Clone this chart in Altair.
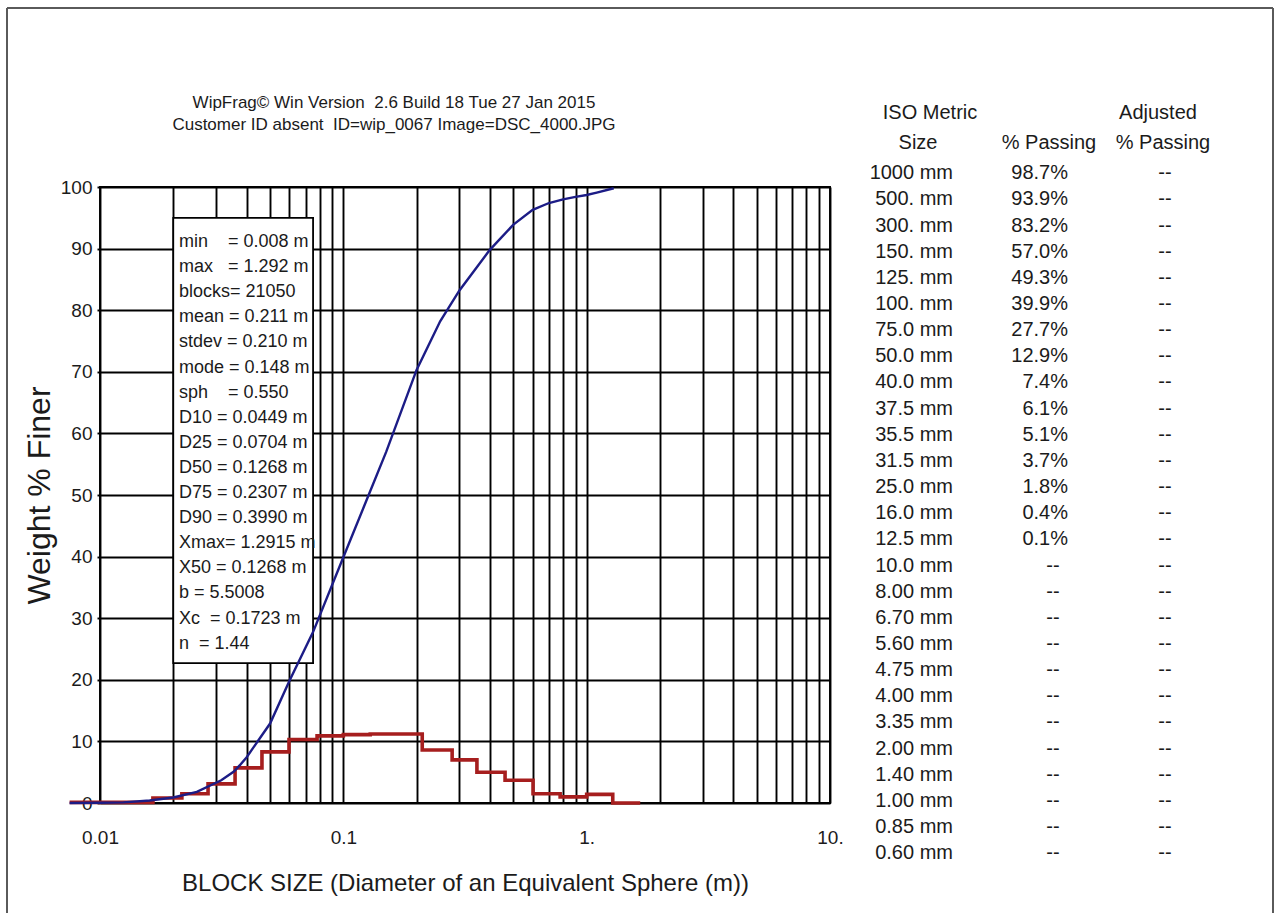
import altair as alt
import pandas as pd

INK = "#1b1b1b"
FONT = "Liberation Sans"

# Cumulative weight % finer versus block size (m)
cum_size = [0.0075, 0.0100, 0.0125, 0.016, 0.020, 0.025, 0.0315, 0.0355, 0.0375,
            0.040, 0.050, 0.060, 0.075, 0.100, 0.125, 0.150, 0.200, 0.250, 0.300,
            0.400, 0.500, 0.600, 0.700, 0.800, 0.900, 1.000, 1.100, 1.292]
cum_pct = [0.0, 0.05, 0.1, 0.4, 0.9, 1.8, 3.7, 5.1, 6.1,
           7.4, 12.9, 19.8, 27.7, 39.9, 49.3, 57.0, 70.3, 78.2, 83.2,
           89.8, 93.9, 96.3, 97.4, 98.0, 98.4, 98.7, 99.1, 99.8]

# Size-class histogram (bin edges in m, weight % per bin)
bin_edges = [0.0075, 0.0165, 0.0217, 0.0278, 0.0359, 0.0463, 0.0598, 0.078, 0.100,
             0.129, 0.166, 0.211, 0.280, 0.354, 0.462, 0.602, 0.778, 1.000, 1.28, 1.66]
bin_pct = [0.1, 0.8, 1.5, 3.1, 5.7, 8.3, 10.3, 10.9, 11.1,
           11.2, 11.2, 8.6, 7.0, 5.0, 3.7, 1.5, 1.0, 1.4, 0.0]

# Log-paper grid positions and labelled decades
grid_x = [0.01, 0.02, 0.03, 0.04, 0.05, 0.06, 0.07, 0.08, 0.09,
          0.1, 0.2, 0.3, 0.4, 0.5, 0.6, 0.7, 0.8, 0.9,
          1, 2, 3, 4, 5, 6, 7, 8, 9, 10]
grid_y = [0, 10, 20, 30, 40, 50, 60, 70, 80, 90, 100]

# Summary statistics shown in the inset box
stats_lines = [
    "min\u00a0\u00a0\u00a0\u00a0= 0.008 m",
    "max\u00a0\u00a0\u00a0= 1.292 m",
    "blocks= 21050",
    "mean\u00a0= 0.211 m",
    "stdev = 0.210 m",
    "mode\u00a0= 0.148 m",
    "sph\u00a0\u00a0\u00a0\u00a0= 0.550",
    "D10 = 0.0449 m",
    "D25 = 0.0704 m",
    "D50 = 0.1268 m",
    "D75 = 0.2307 m",
    "D90 = 0.3990 m",
    "Xmax= 1.2915 m",
    "X50 = 0.1268 m",
    "b = 5.5008",
    "Xc\u00a0\u00a0= 0.1723 m",
    "n\u00a0\u00a0= 1.44",
]
stats_box_x = [0.02, 0.0751]
stats_box_y = [22.7, 95.0]

title_lines = [
    "WipFrag\u00a9 Win Version\u00a0\u00a02.6 Build 18 Tue 27 Jan 2015",
    "Customer ID absent\u00a0\u00a0ID=wip_0067 Image=DSC_4000.JPG",
]

# ISO metric sieve table
iso_sizes = ["1000 mm", "500. mm", "300. mm", "150. mm", "125. mm", "100. mm",
             "75.0 mm", "50.0 mm", "40.0 mm", "37.5 mm", "35.5 mm", "31.5 mm",
             "25.0 mm", "16.0 mm", "12.5 mm", "10.0 mm", "8.00 mm", "6.70 mm",
             "5.60 mm", "4.75 mm", "4.00 mm", "3.35 mm", "2.00 mm", "1.40 mm",
             "1.00 mm", "0.85 mm", "0.60 mm"]
iso_passing = [98.7, 93.9, 83.2, 57.0, 49.3, 39.9, 27.7, 12.9, 7.4, 6.1, 5.1, 3.7,
               1.8, 0.4, 0.1]

# ---------------------------------------------------------------- data frames
cum_df = pd.DataFrame({"size": cum_size, "pct": cum_pct})
hist_df = pd.DataFrame({"size": bin_edges, "pct": bin_pct + [bin_pct[-1]]})
box_df = pd.DataFrame({"size": [stats_box_x[0]], "size_end": [stats_box_x[1]],
                       "pct": [stats_box_y[0]], "pct_end": [stats_box_y[1]]})
one = pd.DataFrame({"k": [0]})

tab_rows = []
for i, s in enumerate(iso_sizes):
    has = i < len(iso_passing)
    tab_rows.append({"size": s, "measured": has,
                     "label": f"{iso_passing[i]:.1f}%" if has else "--"})
tab_df = pd.DataFrame(tab_rows)

# ---------------------------------------------------------------- scales/axes
xs = alt.Scale(type="log", domain=[0.01, 10], nice=False)
ys = alt.Scale(domain=[0, 100], nice=False)

decade_labels = ("datum.value == 0.01 ? '0.01' : datum.value == 0.1 ? '0.1' : "
                 "datum.value == 1 ? '1.' : datum.value == 10 ? '10.' : ''")

x_axis = alt.Axis(values=grid_x, grid=True, gridColor="black", gridWidth=1.9,
                  ticks=False, tickSize=0, domain=False,
                  labelExpr=decade_labels, labelFont=FONT, labelFontSize=19,
                  labelColor=INK, labelPadding=25, labelOverlap=False,
                  labelFlush=False, labelBound=False,
                  title="BLOCK SIZE (Diameter of an Equivalent Sphere (m))",
                  titleFont=FONT, titleFontSize=24, titleFontWeight="normal",
                  titleColor=INK, titleX=365, titleY=68, titleBaseline="top",
                  titleAlign="center")
y_axis = alt.Axis(values=grid_y, grid=True, gridColor="black", gridWidth=1.9,
                  ticks=True, tickSize=3, tickColor="black", tickWidth=1.9,
                  domain=False,
                  labelFont=FONT, labelFontSize=19, labelColor=INK,
                  labelPadding=5, labelBaseline="middle",
                  title="Weight % Finer", titleFont=FONT, titleFontSize=32,
                  titleFontWeight="normal", titleColor=INK, titleAngle=270,
                  titleX=-61, titleY=308, titleBaseline="middle",
                  titleAlign="center")

X = alt.X("size:Q", scale=xs, axis=x_axis)
Y = alt.Y("pct:Q", scale=ys, axis=y_axis)

# ---------------------------------------------------------------- plot layers
box = alt.Chart(box_df).mark_rect(fill="white", stroke="black", strokeWidth=1.8).encode(
    x=X, x2="size_end:Q", y=Y, y2="pct_end:Q",
)

box_text = alt.Chart(one).mark_text(
    text=stats_lines, align="left", baseline="top", lineHeight=25.1,
    font=FONT, fontSize=18, color=INK,
).encode(x=alt.value(79), y=alt.value(46))

hist = alt.Chart(hist_df).mark_line(
    interpolate="step-after", color="#a61e1e", strokeWidth=3.6, clip=False
).encode(x=X, y=Y)

cum = alt.Chart(cum_df).mark_line(color="#1c1c86", strokeWidth=2.4, clip=False).encode(
    x=X, y=Y)

titles = [
    alt.Chart(one).mark_text(text=t, align="center", baseline="middle",
                             font=FONT, fontSize=17, color=INK)
    .encode(x=alt.value(294), y=alt.value(yy))
    for t, yy in zip(title_lines, [-84, -62])
]

# page frame
frame_left = alt.Chart(one).mark_rule(color="#5a5a5a", strokeWidth=2).encode(
    x=alt.value(-93), y=alt.value(-179), y2=alt.value(726))
frame_right = alt.Chart(one).mark_rule(color="#5a5a5a", strokeWidth=2).encode(
    x=alt.value(1173), y=alt.value(-179), y2=alt.value(726))
frame_top = alt.Chart(one).mark_rule(color="#5a5a5a", strokeWidth=2).encode(
    x=alt.value(-93), x2=alt.value(1173), y=alt.value(-179))

main = alt.layer(box, box_text, hist, cum, *titles, frame_left, frame_right, frame_top)

# ---------------------------------------------------------------- sieve table
row_y = alt.Y("size:N", sort=None, axis=None,
              scale=alt.Scale(type="point", domain=iso_sizes,
                              range=[-13.8, 666.2], padding=0))
tcfg = dict(font=FONT, fontSize=20, color=INK, baseline="middle")

t_size = alt.Chart(tab_df).mark_text(align="right", **tcfg).encode(
    x=alt.value(853), y=row_y, text="size:N")
t_pass = alt.Chart(tab_df).transform_filter("datum.measured").mark_text(
    align="right", **tcfg).encode(x=alt.value(968), y=row_y, text="label:N")
t_pass_dash = alt.Chart(tab_df).transform_filter("!datum.measured").mark_text(
    align="center", **tcfg).encode(x=alt.value(953), y=row_y, text="label:N")
t_adj = alt.Chart(tab_df).mark_text(align="center", **tcfg).encode(
    x=alt.value(1065), y=row_y, text=alt.value("--"))

headers = [
    ("ISO Metric", 830, -74), ("Size", 818, -44),
    ("% Passing", 949, -44),
    ("Adjusted", 1058, -74), ("% Passing", 1063, -44),
]
t_heads = [
    alt.Chart(one).mark_text(text=h, align="center", **tcfg)
    .encode(x=alt.value(hx), y=alt.value(hy))
    for h, hx, hy in headers
]

table = alt.layer(t_size, t_pass, t_pass_dash, t_adj, *t_heads)

chart = (
    alt.layer(main, table)
    .resolve_scale(y="independent")
    .properties(width=730, height=616, autosize="none",
                padding={"left": 100, "top": 187, "right": 446, "bottom": 110},
                background="white")
    .configure_view(stroke="black", strokeWidth=1.9)
)

chart.save("out.html", embed_options={"renderer": "svg", "actions": False})
